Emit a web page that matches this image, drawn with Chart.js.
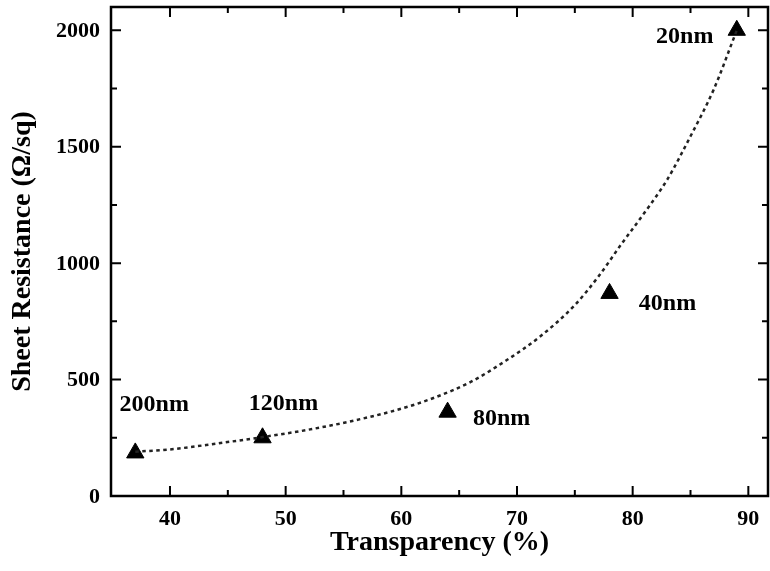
<!DOCTYPE html>
<html>
<head>
<meta charset="utf-8">
<script src="https://cdn.jsdelivr.net/npm/chart.js@4"></script>
<style>
  html, body { margin: 0; padding: 0; background: #fff; }
  #wrap { width: 770px; height: 571px; }
</style>
</head>
<body>
<div id="wrap"><canvas id="chart" width="770" height="571"></canvas></div>
<script>
// measured points (thickness labels)
const transparency = [37, 48, 64, 78, 89];
const resistance = [185, 250, 360, 870, 2000];
const thicknessLabels = ['200nm', '120nm', '80nm', '40nm', '20nm'];

// dashed fit curve
const fitX = [37, 40, 44, 48, 52, 56, 60, 63, 66, 69, 72, 75, 77, 79, 81, 83, 85, 87, 89];
const fitY = [190, 200, 225, 253, 285, 325, 375, 425, 490, 580, 685, 820, 940, 1080, 1215, 1360, 1545, 1745, 2000];

// axis ticks
const xTicks = [40, 50, 60, 70, 80, 90];
const xMinor = [45, 55, 65, 75, 85];
const yTicks = [0, 500, 1000, 1500, 2000];
const yMinor = [250, 750, 1250, 1750];

const serif = "'Liberation Serif', 'Times New Roman', 'DejaVu Serif', serif";
Chart.defaults.font.family = serif;
Chart.defaults.font.weight = 'bold';
Chart.defaults.color = '#000';

// pixel offsets of each label from its point
const labelOffsets = [[19, -48], [21, -34], [54, 7], [58, 10], [-52, 7]];

// box frame, inward ticks on all four sides, tick labels, point labels
const frame = {
  id: 'frame',
  afterDatasetsDraw(chart) {
    const { ctx, chartArea: a, scales: { x, y } } = chart;
    ctx.save();
    ctx.strokeStyle = '#000';
    ctx.lineWidth = 2.5;
    ctx.strokeRect(a.left, a.top, a.right - a.left, a.bottom - a.top);
    ctx.lineWidth = 2;
    ctx.beginPath();
    const xt = (v, len) => {
      const px = x.getPixelForValue(v);
      ctx.moveTo(px, a.bottom); ctx.lineTo(px, a.bottom - len);
      ctx.moveTo(px, a.top); ctx.lineTo(px, a.top + len);
    };
    const yt = (v, len) => {
      const py = y.getPixelForValue(v);
      ctx.moveTo(a.left, py); ctx.lineTo(a.left + len, py);
      ctx.moveTo(a.right, py); ctx.lineTo(a.right - len, py);
    };
    xTicks.forEach(v => xt(v, 10));
    xMinor.forEach(v => xt(v, 6));
    yTicks.forEach(v => yt(v, 10));
    yMinor.forEach(v => yt(v, 6));
    ctx.stroke();

    ctx.fillStyle = '#000';
    ctx.font = 'bold 22px ' + serif;
    ctx.textBaseline = 'middle';
    ctx.textAlign = 'center';
    xTicks.forEach(v => ctx.fillText(String(v), x.getPixelForValue(v), a.bottom + 23));
    ctx.textAlign = 'right';
    yTicks.forEach(v => ctx.fillText(String(v), a.left - 11, y.getPixelForValue(v) + 1));

    // thickness labels
    ctx.font = 'bold 24px ' + serif;
    ctx.textAlign = 'center';
    thicknessLabels.forEach((t, i) => {
      const px = x.getPixelForValue(transparency[i]) + labelOffsets[i][0];
      const py = y.getPixelForValue(resistance[i]) + labelOffsets[i][1];
      ctx.fillText(t, px, py);
    });
    ctx.restore();
  }
};

new Chart(document.getElementById('chart'), {
  type: 'scatter',
  data: {
    datasets: [
      {
        label: 'fit',
        data: fitX.map((x, i) => ({ x, y: fitY[i] })),
        showLine: true,
        borderColor: '#222',
        borderWidth: 2.5,
        borderDash: [3.5, 3.5],
        pointRadius: 0,
        cubicInterpolationMode: 'monotone',
        fill: false,
      },
      {
        label: 'data',
        data: transparency.map((x, i) => ({ x, y: resistance[i] })),
        pointStyle: 'triangle',
        pointRadius: 10,
        backgroundColor: '#000',
        borderColor: '#000',
        borderWidth: 1,
      },
    ],
  },
  options: {
    responsive: false,
    animation: false,
    layout: { autoPadding: false, padding: { top: 7, right: 2, left: 0, bottom: 0 } },
    plugins: { legend: { display: false }, tooltip: { enabled: false } },
    scales: {
      x: {
        type: 'linear',
        min: 34.9,
        max: 91.7,
        grid: { display: false },
        border: { display: false },
        afterBuildTicks: (s) => { s.ticks = xTicks.map(v => ({ value: v })); },
        afterFit: (s) => { s.height = 75; },
        ticks: { display: false },
        title: {
          display: true,
          text: 'Transparency (%)',
          font: { size: 28, weight: 'bold' },
          color: '#000',
          padding: { top: 0, bottom: 11 },
        },
      },
      y: {
        type: 'linear',
        min: 0,
        max: 2100,
        grid: { display: false },
        border: { display: false },
        afterBuildTicks: (s) => { s.ticks = yTicks.map(v => ({ value: v })); },
        afterFit: (s) => { s.width = 111; },
        ticks: { display: false },
        title: {
          display: true,
          text: 'Sheet Resistance (Ω/sq)',
          font: { size: 28, weight: 'bold' },
          color: '#000',
          padding: { top: 6, bottom: 0 },
        },
      },
    },
  },
  plugins: [frame],
});
</script>
</body>
</html>
